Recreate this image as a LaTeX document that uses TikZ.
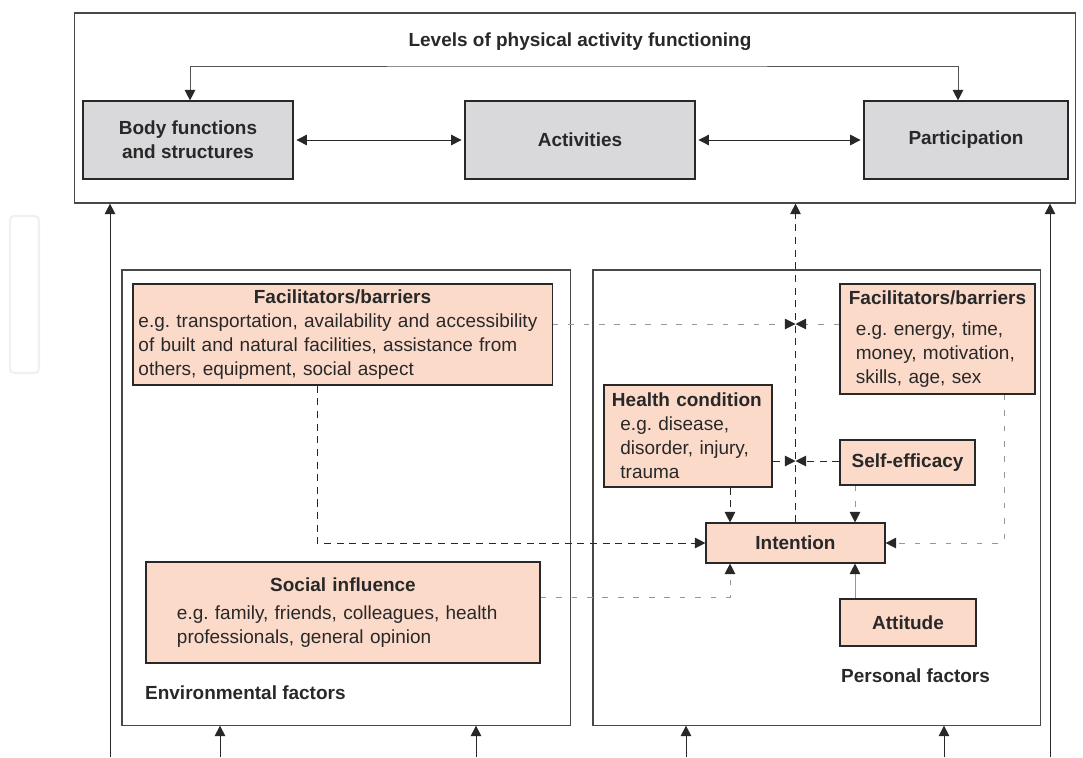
\documentclass[tikz,border=0pt]{standalone}
\usepackage{fontspec}
\setmainfont{Liberation Sans}
\usetikzlibrary{positioning}
\usetikzlibrary{arrows.meta}

\definecolor{factorfill}{RGB}{252,218,202}
\definecolor{levelfill}{RGB}{217,217,219}
\definecolor{darkline}{RGB}{40,40,40}
\definecolor{greyline}{RGB}{150,150,150}

\tikzset{
  every node/.style={font=\fontsize{13.5}{17}\selectfont\frenchspacing, text=darkline},
  level/.style={draw=darkline, fill=levelfill, line width=0.8pt, align=center,
    font=\fontsize{13.5}{17}\selectfont\bfseries},
  factor/.style={draw=darkline, fill=factorfill, line width=0.8pt},
  group/.style={draw=darkline!85, line width=0.8pt},
  blackdash/.style={darkline, line width=0.7pt, dash pattern=on 5pt off 4pt},
  greydash/.style={greyline, line width=0.7pt, dash pattern=on 4pt off 7pt},
}
\newcommand{\boxtitle}[1]{\hspace*{\fill}\textbf{#1}\hspace*{\fill}\null}

\begin{document}
\begin{tikzpicture}[x=0.025cm, y=-0.025cm, line width=0.7pt, darkline,
  >={Triangle[length=7.5pt,width=7.5pt,color=darkline]}]
  \useasboundingbox (0,0) rectangle (1083,757);
  \draw[gray!12, line width=1.5pt, rounded corners=3pt] (10,216) rectangle (39,373);

  % levels of functioning
  \node (levels) [group, minimum width=25cm, minimum height=4.75cm] at (575,108) {};
  \node (title) at (580,42) {\bfseries Levels of physical activity functioning};
  \node (body) [level, minimum width=5.25cm, minimum height=1.95cm] at (188,140) {Body functions\\and structures};
  \node (act) [level, minimum width=5.75cm, minimum height=1.95cm] at (580,140) {Activities};
  \node (part) [level, minimum width=5.1cm, minimum height=1.95cm] at (966,140) {Participation};
  \coordinate (bracket) at (580,66);

  \draw[<->, darkline!80] ([xshift=0.05cm]body.north) |- (bracket) -| ([xshift=-0.2cm]part.north);
  \draw[<->, shorten <=2pt, shorten >=2pt] (body.east) -- (act.west);
  \draw[<->, shorten <=2pt, shorten >=2pt] (act.east) -- (part.west);

  % contextual factors
  \node (env) [group, minimum width=11.2cm, minimum height=11.375cm] at (346,497.5) {};
  \node (pers) [group, minimum width=11.175cm, minimum height=11.375cm] at (816.5,497.5) {};

  \node (envfac) [factor, minimum width=10.475cm, minimum height=2.525cm, text width=10.2cm,
    align=left, inner sep=0pt] at (342.5,334.5)
    {\boxtitle{Facilitators/barriers}\\
     e.g. transportation, availability and accessibility\\
     of built and natural facilities, assistance from\\
     others, equipment, social aspect};
  \node (persfac) [factor, minimum width=4.875cm, minimum height=2.75cm, text width=4.575cm,
    align=left, inner sep=0pt] at (937.5,339)
    {\boxtitle{Facilitators/barriers}\\[5pt]
     \hspace*{7pt}e.g. energy, time,\\
     \hspace*{7pt}money, motivation,\\
     \hspace*{7pt}skills, age, sex};
  \node (health) [factor, minimum width=4.2cm, minimum height=2.55cm, text width=3.8cm,
    align=left, inner sep=0pt] at (688,436)
    {\textbf{Health condition}\\
     \hspace*{6pt}e.g. disease,\\
     \hspace*{6pt}disorder, injury,\\
     \hspace*{6pt}trauma};
  \node (self) [factor, minimum width=3.375cm, minimum height=1.125cm] at (907.5,462.5) {\textbf{Self-efficacy}};
  \node (intention) [factor, minimum width=4.475cm, minimum height=1cm] at (795.5,543) {\textbf{Intention}};
  \node (attitude) [factor, minimum width=3.4cm, minimum height=1.175cm] at (908,622.5) {\textbf{Attitude}};
  \node (social) [factor, minimum width=9.85cm, minimum height=2.525cm, text width=8.3cm,
    align=left, inner sep=0pt] at (343,612.5)
    {\boxtitle{Social influence}\\[3pt]
     e.g. family, friends, colleagues, health\\
     professionals, general opinion};

  \node (envlabel) [anchor=west] at (140,693) {\textbf{Environmental factors}};
  \node (perslabel) [anchor=west] at (836,676) {\textbf{Personal factors}};

  \coordinate (jf) at (795.5,324);
  \coordinate (jh) at (795.5,461);
  \coordinate (inleft) at (110,757);
  \coordinate (inright) at (1050,757);
  \coordinate (inenvA) at (220,757);
  \coordinate (inenvB) at (476,757);
  \coordinate (inpersA) at (686,757);
  \coordinate (inpersB) at (944,757);

  % influences
  \draw[blackdash,->] (intention.north) -- (intention.north |- levels.south);
  \draw[greydash,->] (envfac.east |- jf) -- (jf);
  \draw[greydash,->] (persfac.west |- jf) -- (jf);
  \draw[blackdash,->] (health.east |- jh) -- (jh);
  \draw[blackdash,->] (self.west |- jh) -- (jh);
  \draw[blackdash,->] (envfac.south -| 317,0) |- (intention.west);
  \draw[greydash,->] (persfac.south -| 1004,0) |- (intention.east);
  \draw[blackdash,->] (health.south -| 730,0) -- (intention.north -| 730,0);
  \draw[greydash,->] (self.south -| 855,0) -- (intention.north -| 855,0);
  \draw[greydash,->] (social.east |- 0,597) -| (intention.south -| 730,0);
  \draw[greyline,->] (attitude.north -| 855,0) -- (intention.south -| 855,0);

  \draw[->] (inleft) -- (inleft |- levels.south);
  \draw[->] (inright) -- (inright |- levels.south);
  \foreach \c in {inenvA,inenvB} \draw[->] (\c) -- (\c |- env.south);
  \foreach \c in {inpersA,inpersB} \draw[->] (\c) -- (\c |- pers.south);
\end{tikzpicture}
\end{document}
